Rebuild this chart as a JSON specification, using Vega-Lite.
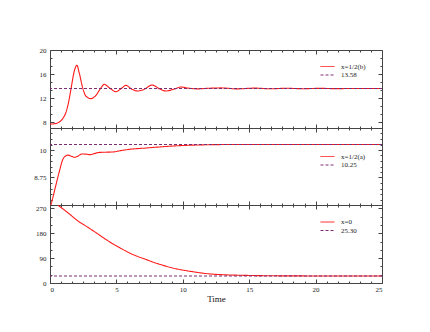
{
  "$schema": "https://vega.github.io/schema/vega-lite/v6.json",
  "padding": {"left": 29, "top": 45, "right": 10, "bottom": 5},
  "spacing": 0,
  "bounds": "flush",
  "background": "white",
  "datasets": {
    "top": [
      {"t": 0, "v": 7.65, "s": "x=1/2(b)"},
      {"t": 0.3, "v": 7.7, "s": "x=1/2(b)"},
      {"t": 0.7, "v": 8.0, "s": "x=1/2(b)"},
      {"t": 1.0, "v": 8.7, "s": "x=1/2(b)"},
      {"t": 1.2, "v": 9.6, "s": "x=1/2(b)"},
      {"t": 1.4, "v": 11.3, "s": "x=1/2(b)"},
      {"t": 1.58, "v": 13.5, "s": "x=1/2(b)"},
      {"t": 1.83, "v": 16.5, "s": "x=1/2(b)"},
      {"t": 2.03, "v": 17.45, "s": "x=1/2(b)"},
      {"t": 2.2, "v": 16.2, "s": "x=1/2(b)"},
      {"t": 2.46, "v": 13.7, "s": "x=1/2(b)"},
      {"t": 2.71, "v": 12.3, "s": "x=1/2(b)"},
      {"t": 3.09, "v": 11.9, "s": "x=1/2(b)"},
      {"t": 3.46, "v": 12.45, "s": "x=1/2(b)"},
      {"t": 3.84, "v": 13.7, "s": "x=1/2(b)"},
      {"t": 4.09, "v": 14.28, "s": "x=1/2(b)"},
      {"t": 4.47, "v": 13.7, "s": "x=1/2(b)"},
      {"t": 4.97, "v": 13.05, "s": "x=1/2(b)"},
      {"t": 5.35, "v": 13.55, "s": "x=1/2(b)"},
      {"t": 5.72, "v": 14.1, "s": "x=1/2(b)"},
      {"t": 6.1, "v": 13.55, "s": "x=1/2(b)"},
      {"t": 6.6, "v": 13.17, "s": "x=1/2(b)"},
      {"t": 7.1, "v": 13.45, "s": "x=1/2(b)"},
      {"t": 7.68, "v": 14.17, "s": "x=1/2(b)"},
      {"t": 8.23, "v": 13.55, "s": "x=1/2(b)"},
      {"t": 8.73, "v": 13.17, "s": "x=1/2(b)"},
      {"t": 9.36, "v": 13.5, "s": "x=1/2(b)"},
      {"t": 9.86, "v": 13.83, "s": "x=1/2(b)"},
      {"t": 10.4, "v": 13.65, "s": "x=1/2(b)"},
      {"t": 11.1, "v": 13.52, "s": "x=1/2(b)"},
      {"t": 11.9, "v": 13.62, "s": "x=1/2(b)"},
      {"t": 12.9, "v": 13.68, "s": "x=1/2(b)"},
      {"t": 14.1, "v": 13.52, "s": "x=1/2(b)"},
      {"t": 15.4, "v": 13.65, "s": "x=1/2(b)"},
      {"t": 16.6, "v": 13.54, "s": "x=1/2(b)"},
      {"t": 17.8, "v": 13.62, "s": "x=1/2(b)"},
      {"t": 19.0, "v": 13.55, "s": "x=1/2(b)"},
      {"t": 20.3, "v": 13.61, "s": "x=1/2(b)"},
      {"t": 21.5, "v": 13.56, "s": "x=1/2(b)"},
      {"t": 23.0, "v": 13.59, "s": "x=1/2(b)"},
      {"t": 25.0, "v": 13.58, "s": "x=1/2(b)"}
    ],
    "topRef": [{"v": 13.58, "s": "13.58"}],
    "mid": [
      {"t": 0, "v": 7.35, "s": "x=1/2(a)"},
      {"t": 0.2, "v": 7.8, "s": "x=1/2(a)"},
      {"t": 0.45, "v": 8.42, "s": "x=1/2(a)"},
      {"t": 0.7, "v": 9.02, "s": "x=1/2(a)"},
      {"t": 0.95, "v": 9.55, "s": "x=1/2(a)"},
      {"t": 1.2, "v": 9.74, "s": "x=1/2(a)"},
      {"t": 1.35, "v": 9.77, "s": "x=1/2(a)"},
      {"t": 1.6, "v": 9.72, "s": "x=1/2(a)"},
      {"t": 1.85, "v": 9.67, "s": "x=1/2(a)"},
      {"t": 2.1, "v": 9.72, "s": "x=1/2(a)"},
      {"t": 2.4, "v": 9.82, "s": "x=1/2(a)"},
      {"t": 2.75, "v": 9.81, "s": "x=1/2(a)"},
      {"t": 3.0, "v": 9.79, "s": "x=1/2(a)"},
      {"t": 3.35, "v": 9.84, "s": "x=1/2(a)"},
      {"t": 3.71, "v": 9.89, "s": "x=1/2(a)"},
      {"t": 4.2, "v": 9.9, "s": "x=1/2(a)"},
      {"t": 4.72, "v": 9.91, "s": "x=1/2(a)"},
      {"t": 5.3, "v": 9.97, "s": "x=1/2(a)"},
      {"t": 5.97, "v": 10.03, "s": "x=1/2(a)"},
      {"t": 7.23, "v": 10.09, "s": "x=1/2(a)"},
      {"t": 8.5, "v": 10.15, "s": "x=1/2(a)"},
      {"t": 9.5, "v": 10.19, "s": "x=1/2(a)"},
      {"t": 10.7, "v": 10.22, "s": "x=1/2(a)"},
      {"t": 12.0, "v": 10.24, "s": "x=1/2(a)"},
      {"t": 14.0, "v": 10.25, "s": "x=1/2(a)"},
      {"t": 25.0, "v": 10.25, "s": "x=1/2(a)"}
    ],
    "midRef": [{"v": 10.25, "s": "10.25"}],
    "bot": [
      {"t": 0.6, "v": 281, "s": "x=0"},
      {"t": 1.0, "v": 267, "s": "x=0"},
      {"t": 1.5, "v": 248, "s": "x=0"},
      {"t": 2.08, "v": 225, "s": "x=0"},
      {"t": 2.8, "v": 203, "s": "x=0"},
      {"t": 3.46, "v": 182, "s": "x=0"},
      {"t": 4.1, "v": 161, "s": "x=0"},
      {"t": 4.72, "v": 142, "s": "x=0"},
      {"t": 5.35, "v": 125, "s": "x=0"},
      {"t": 5.97, "v": 109, "s": "x=0"},
      {"t": 6.6, "v": 96, "s": "x=0"},
      {"t": 7.23, "v": 85, "s": "x=0"},
      {"t": 7.85, "v": 74, "s": "x=0"},
      {"t": 8.48, "v": 64.5, "s": "x=0"},
      {"t": 9.1, "v": 56, "s": "x=0"},
      {"t": 9.74, "v": 49, "s": "x=0"},
      {"t": 10.4, "v": 43.5, "s": "x=0"},
      {"t": 11.0, "v": 39, "s": "x=0"},
      {"t": 11.6, "v": 35, "s": "x=0"},
      {"t": 12.25, "v": 32, "s": "x=0"},
      {"t": 13.0, "v": 30, "s": "x=0"},
      {"t": 13.5, "v": 29, "s": "x=0"},
      {"t": 14.5, "v": 27.8, "s": "x=0"},
      {"t": 15.3, "v": 27, "s": "x=0"},
      {"t": 17.0, "v": 26, "s": "x=0"},
      {"t": 19.0, "v": 25.6, "s": "x=0"},
      {"t": 21.0, "v": 25.4, "s": "x=0"},
      {"t": 25.0, "v": 25.3, "s": "x=0"}
    ],
    "botRef": [{"v": 25.3, "s": "25.30"}]
  },
  "resolve": {
    "scale": {"x": "independent", "y": "independent", "color": "independent", "strokeDash": "independent"},
    "legend": {"color": "independent", "strokeDash": "independent"}
  },
  "vconcat": [
    {
      "width": 332,
      "height": 78,
      "resolve": {"axis": {"x": "independent", "y": "independent"}},
      "layer": [
        {
          "data": {"name": "top"},
          "mark": {"type": "line", "interpolate": "monotone", "strokeWidth": 1.1, "clip": true},
          "encoding": {
            "x": {"field": "t", "type": "quantitative", "scale": {"domain": [0, 25], "nice": false}, "axis": {"orient": "bottom", "values": [0, 5, 10, 15, 20, 25], "labels": false, "title": null, "tickSize": -4}},
            "y": {"field": "v", "type": "quantitative", "scale": {"domain": [7, 20], "nice": false, "zero": false}, "axis": {"orient": "left", "values": [8, 12, 16, 20], "title": null, "tickSize": -4, "labelPadding": 8, "minExtent": 20, "maxExtent": 20}},
            "color": {"field": "s", "type": "nominal", "scale": {"domain": ["x=1/2(b)", "13.58"], "range": ["#ff1a1a", "#7a2c70"]}, "legend": {"orient": "none", "legendX": 273.5, "legendY": 12.5, "title": null}},
            "strokeDash": {"field": "s", "type": "nominal", "scale": {"domain": ["x=1/2(b)", "13.58"], "range": [[1, 0], [3, 2]]}, "legend": {"orient": "none", "legendX": 273.5, "legendY": 12.5, "title": null}}
          }
        },
        {
          "data": {"name": "topRef"},
          "mark": {"type": "rule", "strokeWidth": 1},
          "encoding": {
            "y": {"field": "v", "type": "quantitative", "axis": null},
            "color": {"field": "s", "type": "nominal"},
            "strokeDash": {"field": "s", "type": "nominal"}
          }
        },
        {
          "data": {"name": "top"},
          "mark": {"type": "line", "opacity": 0},
          "encoding": {
            "x": {"field": "t", "type": "quantitative", "axis": {"orient": "top", "values": [0, 5, 10, 15, 20, 25], "labels": false, "title": null, "tickSize": -4}},
            "y": {"field": "v", "type": "quantitative", "axis": {"orient": "right", "values": [8, 12, 16, 20], "labels": false, "title": null, "tickSize": -4}}
          }
        },
        {
          "data": {"name": "top"},
          "mark": {"type": "line", "opacity": 0},
          "encoding": {
            "x": {"field": "t", "type": "quantitative", "axis": {"orient": "bottom", "values": [0.8333, 1.6667, 2.5, 3.3333, 4.1667, 5.8333, 6.6667, 7.5, 8.3333, 9.1667, 10.8333, 11.6667, 12.5, 13.3333, 14.1667, 15.8333, 16.6667, 17.5, 18.3333, 19.1667, 20.8333, 21.6667, 22.5, 23.3333, 24.1667], "labels": false, "title": null, "tickSize": -2}},
            "y": {"field": "v", "type": "quantitative", "axis": {"orient": "left", "values": [9.3333, 10.6667, 13.3333, 14.6667, 17.3333, 18.6667], "labels": false, "title": null, "tickSize": -2}}
          }
        },
        {
          "data": {"name": "top"},
          "mark": {"type": "line", "opacity": 0},
          "encoding": {
            "x": {"field": "t", "type": "quantitative", "axis": {"orient": "top", "values": [0.8333, 1.6667, 2.5, 3.3333, 4.1667, 5.8333, 6.6667, 7.5, 8.3333, 9.1667, 10.8333, 11.6667, 12.5, 13.3333, 14.1667, 15.8333, 16.6667, 17.5, 18.3333, 19.1667, 20.8333, 21.6667, 22.5, 23.3333, 24.1667], "labels": false, "title": null, "tickSize": -2}},
            "y": {"field": "v", "type": "quantitative", "axis": {"orient": "right", "values": [9.3333, 10.6667, 13.3333, 14.6667, 17.3333, 18.6667], "labels": false, "title": null, "tickSize": -2}}
          }
        }
      ]
    },
    {
      "width": 332,
      "height": 77,
      "resolve": {"axis": {"x": "independent", "y": "independent"}},
      "layer": [
        {
          "data": {"name": "mid"},
          "mark": {"type": "line", "interpolate": "monotone", "strokeWidth": 1.1, "clip": true},
          "encoding": {
            "x": {"field": "t", "type": "quantitative", "scale": {"domain": [0, 25], "nice": false}, "axis": {"orient": "bottom", "values": [0, 5, 10, 15, 20, 25], "labels": false, "title": null, "tickSize": -4}},
            "y": {"field": "v", "type": "quantitative", "scale": {"domain": [7.5, 11], "nice": false, "zero": false}, "axis": {"orient": "left", "values": [8.75, 10], "labelExpr": "format(datum.value, '.4~g')", "title": null, "tickSize": -4, "labelPadding": 8, "minExtent": 20, "maxExtent": 20}},
            "color": {"field": "s", "type": "nominal", "scale": {"domain": ["x=1/2(a)", "10.25"], "range": ["#ff1a1a", "#7a2c70"]}, "legend": {"orient": "none", "legendX": 273.5, "legendY": 24.5, "title": null}},
            "strokeDash": {"field": "s", "type": "nominal", "scale": {"domain": ["x=1/2(a)", "10.25"], "range": [[1, 0], [3, 2]]}, "legend": {"orient": "none", "legendX": 273.5, "legendY": 24.5, "title": null}}
          }
        },
        {
          "data": {"name": "midRef"},
          "mark": {"type": "rule", "strokeWidth": 1},
          "encoding": {
            "y": {"field": "v", "type": "quantitative", "axis": null},
            "color": {"field": "s", "type": "nominal"},
            "strokeDash": {"field": "s", "type": "nominal"}
          }
        },
        {
          "data": {"name": "mid"},
          "mark": {"type": "line", "opacity": 0},
          "encoding": {
            "x": {"field": "t", "type": "quantitative", "axis": {"orient": "top", "values": [0, 5, 10, 15, 20, 25], "labels": false, "title": null, "tickSize": -4}},
            "y": {"field": "v", "type": "quantitative", "axis": {"orient": "right", "values": [8.75, 10], "labels": false, "title": null, "tickSize": -4}}
          }
        },
        {
          "data": {"name": "mid"},
          "mark": {"type": "line", "opacity": 0},
          "encoding": {
            "x": {"field": "t", "type": "quantitative", "axis": {"orient": "bottom", "values": [0.8333, 1.6667, 2.5, 3.3333, 4.1667, 5.8333, 6.6667, 7.5, 8.3333, 9.1667, 10.8333, 11.6667, 12.5, 13.3333, 14.1667, 15.8333, 16.6667, 17.5, 18.3333, 19.1667, 20.8333, 21.6667, 22.5, 23.3333, 24.1667], "labels": false, "title": null, "tickSize": -2}},
            "y": {"field": "v", "type": "quantitative", "axis": {"orient": "left", "values": [7.75, 8, 8.25, 8.5, 9, 9.25, 9.5, 9.75, 10.25, 10.5, 10.75], "labels": false, "title": null, "tickSize": -2}}
          }
        },
        {
          "data": {"name": "mid"},
          "mark": {"type": "line", "opacity": 0},
          "encoding": {
            "x": {"field": "t", "type": "quantitative", "axis": {"orient": "top", "values": [0.8333, 1.6667, 2.5, 3.3333, 4.1667, 5.8333, 6.6667, 7.5, 8.3333, 9.1667, 10.8333, 11.6667, 12.5, 13.3333, 14.1667, 15.8333, 16.6667, 17.5, 18.3333, 19.1667, 20.8333, 21.6667, 22.5, 23.3333, 24.1667], "labels": false, "title": null, "tickSize": -2}},
            "y": {"field": "v", "type": "quantitative", "axis": {"orient": "right", "values": [7.75, 8, 8.25, 8.5, 9, 9.25, 9.5, 9.75, 10.25, 10.5, 10.75], "labels": false, "title": null, "tickSize": -2}}
          }
        }
      ]
    },
    {
      "width": 332,
      "height": 78,
      "resolve": {"axis": {"x": "independent", "y": "independent"}},
      "layer": [
        {
          "data": {"name": "bot"},
          "mark": {"type": "line", "interpolate": "monotone", "strokeWidth": 1.1, "clip": true},
          "encoding": {
            "x": {"field": "t", "type": "quantitative", "scale": {"domain": [0, 25], "nice": false}, "axis": {"orient": "bottom", "values": [0, 5, 10, 15, 20, 25], "title": "Time", "tickSize": -4, "labelPadding": 6, "titlePadding": 2}},
            "y": {"field": "v", "type": "quantitative", "scale": {"domain": [0, 282], "nice": false, "zero": false}, "axis": {"orient": "left", "values": [0, 90, 180, 270], "title": null, "tickSize": -4, "labelPadding": 8, "minExtent": 20, "maxExtent": 20}},
            "color": {"field": "s", "type": "nominal", "scale": {"domain": ["x=0", "25.30"], "range": ["#ff1a1a", "#7a2c70"]}, "legend": {"orient": "none", "legendX": 273.5, "legendY": 13, "title": null}},
            "strokeDash": {"field": "s", "type": "nominal", "scale": {"domain": ["x=0", "25.30"], "range": [[1, 0], [3, 2]]}, "legend": {"orient": "none", "legendX": 273.5, "legendY": 13, "title": null}}
          }
        },
        {
          "data": {"name": "botRef"},
          "mark": {"type": "rule", "strokeWidth": 1},
          "encoding": {
            "y": {"field": "v", "type": "quantitative", "axis": null},
            "color": {"field": "s", "type": "nominal"},
            "strokeDash": {"field": "s", "type": "nominal"}
          }
        },
        {
          "data": {"name": "bot"},
          "mark": {"type": "line", "opacity": 0},
          "encoding": {
            "x": {"field": "t", "type": "quantitative", "axis": {"orient": "top", "values": [0, 5, 10, 15, 20, 25], "labels": false, "title": null, "tickSize": -4}},
            "y": {"field": "v", "type": "quantitative", "axis": {"orient": "right", "values": [0, 90, 180, 270], "labels": false, "title": null, "tickSize": -4}}
          }
        },
        {
          "data": {"name": "bot"},
          "mark": {"type": "line", "opacity": 0},
          "encoding": {
            "x": {"field": "t", "type": "quantitative", "axis": {"orient": "bottom", "values": [0.8333, 1.6667, 2.5, 3.3333, 4.1667, 5.8333, 6.6667, 7.5, 8.3333, 9.1667, 10.8333, 11.6667, 12.5, 13.3333, 14.1667, 15.8333, 16.6667, 17.5, 18.3333, 19.1667, 20.8333, 21.6667, 22.5, 23.3333, 24.1667], "labels": false, "title": null, "tickSize": -2}},
            "y": {"field": "v", "type": "quantitative", "axis": {"orient": "left", "values": [30, 60, 120, 150, 210, 240], "labels": false, "title": null, "tickSize": -2}}
          }
        },
        {
          "data": {"name": "bot"},
          "mark": {"type": "line", "opacity": 0},
          "encoding": {
            "x": {"field": "t", "type": "quantitative", "axis": {"orient": "top", "values": [0.8333, 1.6667, 2.5, 3.3333, 4.1667, 5.8333, 6.6667, 7.5, 8.3333, 9.1667, 10.8333, 11.6667, 12.5, 13.3333, 14.1667, 15.8333, 16.6667, 17.5, 18.3333, 19.1667, 20.8333, 21.6667, 22.5, 23.3333, 24.1667], "labels": false, "title": null, "tickSize": -2}},
            "y": {"field": "v", "type": "quantitative", "axis": {"orient": "right", "values": [30, 60, 120, 150, 210, 240], "labels": false, "title": null, "tickSize": -2}}
          }
        }
      ]
    }
  ],
  "config": {
    "view": {"stroke": "#444", "strokeWidth": 1},
    "axis": {
      "domain": false,
      "grid": false,
      "tickColor": "#444",
      "labelFont": "Liberation Serif",
      "labelFontSize": 7,
      "labelColor": "#222",
      "titleFont": "Liberation Serif",
      "titleFontSize": 9,
      "titleFontWeight": "normal",
      "titleColor": "#111"
    },
    "legend": {
      "labelFont": "Liberation Serif",
      "labelFontSize": 7,
      "labelColor": "#222",
      "symbolType": "M-2,0H2",
      "symbolSize": 49,
      "symbolStrokeWidth": 1,
      "labelOffset": 9.5,
      "rowPadding": 1.5,
      "padding": 0
    }
  }
}
